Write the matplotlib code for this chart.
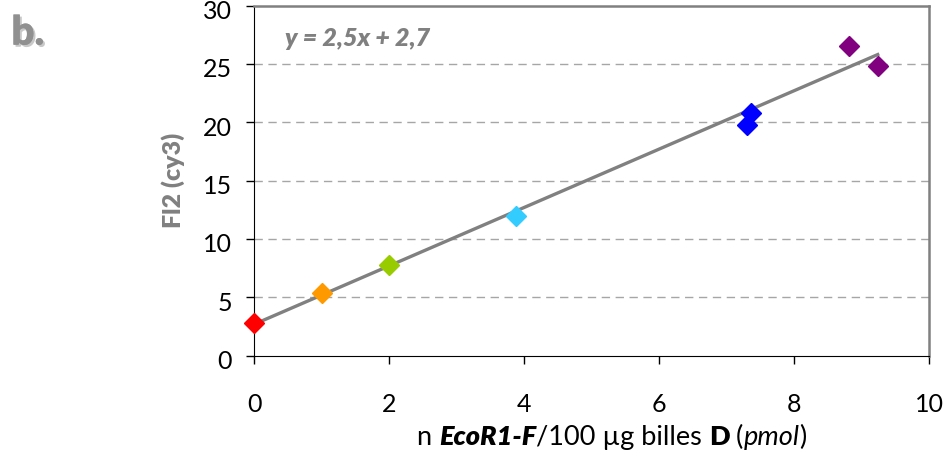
import numpy as np
import matplotlib
matplotlib.use("Agg")
import matplotlib.pyplot as plt
import matplotlib.transforms as mtransforms
from matplotlib.offsetbox import TextArea, HPacker, AnchoredOffsetbox
import matplotlib.patheffects as pe

plt.rcParams['font.family'] = ['Lato', 'DejaVu Sans']

# data
x_vals = [0.0, 1.0, 2.0, 3.88, 7.30, 7.36, 8.82, 9.24]
y_vals = [2.8, 5.4, 7.8, 12.0, 19.8, 20.8, 26.5, 24.8]
colors = ['#FF0000', '#FF9900', '#99CC00', '#33CCFF', '#0000FF', '#0000FF', '#800080', '#800080']
slope = 2.5
intercept = 2.7
eq_label = "y = 2,5x + 2,7"
x_ticks = [0, 2, 4, 6, 8, 10]
y_ticks = [0, 5, 10, 15, 20, 25, 30]

fig = plt.figure(figsize=(9.47, 4.61), dpi=100)
ax = fig.add_axes([0.2685, 0.2284, 0.981 - 0.2685, 0.988 - 0.2284])

# trend line over the data range
xt = np.array([min(x_vals), max(x_vals)])
ax.plot(xt, slope * xt + intercept, color='#808080', lw=2.4, zorder=2)

for x, y, c in zip(x_vals, y_vals, colors):
    ax.plot(x, y, marker='D', ms=10, color=c, mec=c, ls='none', zorder=3, clip_on=False)

ax.set_xlim(0, 10)
ax.set_ylim(0, 30)
ax.set_xticks(x_ticks)
ax.set_yticks(y_ticks)
ax.tick_params(axis='both', direction='out', length=6, width=1, labelsize=18, color='black')
ax.tick_params(axis='x', pad=21)
ax.tick_params(axis='y', pad=10)

# excel draws the y labels slightly below their ticks
shift = mtransforms.ScaledTranslation(0, -4 / 100, fig.dpi_scale_trans)
for lab in ax.get_yticklabels():
    lab.set_transform(lab.get_transform() + shift)

for yy in y_ticks[1:-1]:
    ax.axhline(yy, color='#A6A6A6', lw=1, ls=(0, (6, 4)), zorder=1)

ax.spines['left'].set_color('black')
ax.spines['bottom'].set_color('black')
ax.spines['top'].set_color('#808080')
ax.spines['right'].set_color('#808080')
ax.spines['top'].set_linewidth(1.8)
ax.spines['right'].set_linewidth(1.8)

ax.set_ylabel("Fl2 (cy3)", fontsize=18, fontweight='heavy', color='#808080', labelpad=13)

ax.text(0.045, 0.905, eq_label, transform=ax.transAxes, fontsize=18,
        fontweight='heavy', style='italic', color='#808080', va='center')

# x label with mixed styles
parts = [("n ", 'normal', 'normal'), ("EcoR1-F", 'heavy', 'italic'),
         ("/100 µg billes ", 'normal', 'normal'), ("D", 'heavy', 'normal'),
         (" (", 'normal', 'normal'), ("pmol", 'normal', 'italic'), (")", 'normal', 'normal')]
areas = [TextArea(t, textprops=dict(fontsize=19.5, fontweight=w, style=s, color='black'))
         for t, w, s in parts]
box = HPacker(children=areas, pad=0, sep=0, align='baseline')
anch = AnchoredOffsetbox(loc='center', child=box, frameon=False,
                         bbox_to_anchor=(0.646, 0.05), bbox_transform=fig.transFigure)
fig.add_artist(anch)

fig.text(0.012, 0.928, "b.", fontsize=29, fontweight='heavy', color='#909090', va='center',
         path_effects=[pe.withSimplePatchShadow(offset=(1.5, -1.5), shadow_rgbFace='#C8C8C8', alpha=1),
                       pe.Normal()])

fig.savefig("out.png", dpi=100)
